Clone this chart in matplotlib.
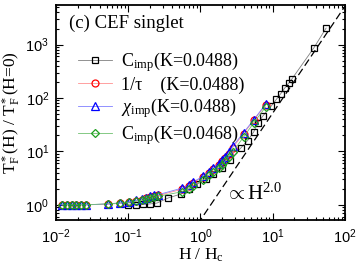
import numpy as np
import matplotlib
matplotlib.use("Agg")
import matplotlib.pyplot as plt

plt.rcParams['font.family'] = ['Liberation Serif', 'DejaVu Serif']
plt.rcParams['mathtext.fontset'] = 'custom'
plt.rcParams['mathtext.rm'] = 'Liberation Serif'
plt.rcParams['mathtext.it'] = 'Liberation Serif:italic'

# C_imp (K=0.0488)
h_c = [0.1, 0.13, 0.16, 0.2, 0.25, 0.36, 0.54, 0.7, 0.9, 1.2, 1.5, 2.0, 2.6, 3.6,
       4.5, 5.45, 6.2, 7.4, 9.5, 11.3, 12.9, 14.7, 16.7, 18.4, 37, 55]
y_c = [1.0, 1.0, 1.02, 1.04, 1.08, 1.35, 1.6, 2.0, 2.45, 3.0, 3.7, 4.9, 6.8, 11.5,
       16, 23, 34, 47, 70, 95, 120, 154, 190, 226, 860, 2040]

# 1/tau (K=0.0488) and chi_imp (K=0.0488), C_imp (K=0.0468)
h_k = [0.012, 0.014, 0.0164, 0.019, 0.022, 0.026, 0.053, 0.078, 0.104, 0.13, 0.155,
       0.175, 0.2, 0.225, 0.26, 0.55, 0.7, 0.8, 1.07, 1.3, 1.5, 1.78, 2.0, 2.2, 2.45,
       2.8, 3.95, 5.45, 8.0]
y_tau = [1.0, 1.0, 1.0, 1.0, 1.0, 1.0, 1.03, 1.07, 1.12, 1.18, 1.25, 1.32, 1.38, 1.44,
         1.5, 1.95, 2.25, 2.6, 3.3, 4.0, 4.7, 5.6, 6.5, 7.6, 9.1, 11.8, 21.5, 38, 75]
y_chi = [1.0, 1.0, 1.0, 1.0, 1.0, 1.0, 1.04, 1.09, 1.15, 1.22, 1.3, 1.37, 1.44, 1.5,
         1.55, 2.05, 2.35, 2.7, 3.4, 4.2, 4.9, 5.9, 6.8, 8.0, 9.6, 12.5, 22.5, 39, 77]
y_c2 = [1.0, 1.0, 1.0, 1.0, 1.0, 1.0, 1.05, 1.08, 1.12, 1.17, 1.22, 1.27, 1.32, 1.38,
        1.45, 1.75, 2.0, 2.3, 2.9, 3.6, 4.1, 4.9, 5.6, 6.6, 7.9, 9.8, 18.6, 34, 68]

labels = [r'C$_{\rm imp}$(K=0.0488)', '1/τ    (K=0.0488)',
          r'$\chi$$_{\rm imp}$(K=0.0488)', r'C$_{\rm imp}$(K=0.0468)']

# H^2 guide line
h_guide = np.array([0.5, 100.0])
y_guide = 0.52 * h_guide ** 2.0

fig = plt.figure(figsize=(3.57, 2.67), dpi=100)
ax = fig.add_axes([0.157, 0.176, 0.809, 0.805])

ax.plot(h_guide, y_guide, color='black', lw=0.9, dashes=(6, 3))

ax.plot(h_c, y_c, '-s', color='#808080', mec='black', mfc='none', ms=5, mew=0.9, lw=0.6, label=labels[0])
ax.plot(h_k, y_tau, '-o', color='#ff9090', mec='red', mfc='none', ms=5, mew=0.9, lw=0.6, label=labels[1])
ax.plot(h_k, y_chi, '-^', color='#8080ff', mec='blue', mfc='none', ms=5.5, mew=0.9, lw=0.6, label=labels[2])
ax.plot(h_k, y_c2, '-D', color='#70c070', mec='#20a020', mfc='none', ms=4.5, mew=0.9, lw=0.6, label=labels[3])

ax.set_xscale('log')
ax.set_yscale('log')
ax.set_xlim(1e-2, 1e2)
ax.set_ylim(0.52, 5500)

ax.tick_params(which='both', direction='in', top=True, right=True, width=0.8)
ax.tick_params(which='major', length=5, labelsize=10.5, pad=5)
ax.tick_params(which='minor', length=2.5)
for lab in ax.get_xticklabels() + ax.get_yticklabels():
    lab.set_fontfamily('Liberation Sans')
for s in ax.spines.values():
    s.set_linewidth(1.3)

ax.set_xlabel(r'H / H$_{\rm c}$', fontsize=12.5, labelpad=1)
ax.set_ylabel(r'T$^*_{\rm F}$(H) / T$^*_{\rm F}$(H=0)', fontsize=12.5, labelpad=2)

ax.text(0.045, 0.955, '(c) CEF singlet', transform=ax.transAxes, fontsize=13.5, va='top')
ax.text(2.2, 1.25, r'$\propto$H$^{2.0}$', fontsize=15)

ax.legend(loc='upper left', bbox_to_anchor=(0.05, 0.825), frameon=False, fontsize=13,
          handlelength=1.9, handletextpad=0.5, labelspacing=0.15, borderaxespad=0)

fig.savefig('out.png', dpi=100)
